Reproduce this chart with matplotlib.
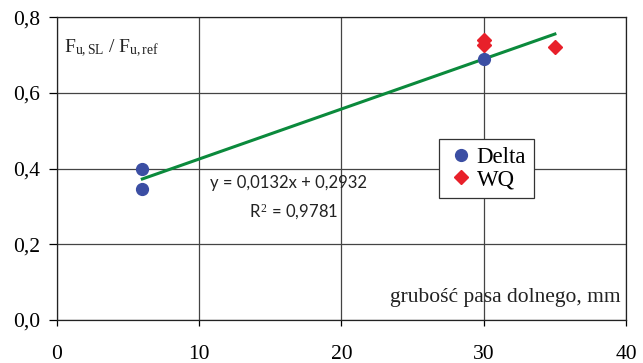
import numpy as np
import matplotlib
matplotlib.use("Agg")
import matplotlib.pyplot as plt
from matplotlib.ticker import FuncFormatter

# dane
delta_x = [6, 6, 30]
delta_y = [0.400, 0.345, 0.690]
wq_x = [30, 30, 35]
wq_y = [0.740, 0.725, 0.720]

# linia trendu (z rownania na wykresie)
a_trend = 0.0132
b_trend = 0.2932
trend_x = [6, 35]

x_ticks = [0, 10, 20, 30, 40]
y_ticks = [0.0, 0.2, 0.4, 0.6, 0.8]

serif = "Liberation Serif"
plt.rcParams["mathtext.fontset"] = "custom"
plt.rcParams["mathtext.rm"] = serif
plt.rcParams["mathtext.it"] = serif + ":italic"

fig = plt.figure(figsize=(6.43, 3.63), dpi=100)
ax = fig.add_axes([0.0886, 0.1185, 0.885, 0.8345])

ax.set_xlim(0, 40)
ax.set_ylim(0, 0.8)
ax.set_xticks(x_ticks)
ax.set_yticks(y_ticks)
ax.xaxis.set_major_formatter(FuncFormatter(lambda v, p: f"{v:.0f}"))
ax.yaxis.set_major_formatter(FuncFormatter(lambda v, p: f"{v:.1f}".replace(".", ",")))
for lab in ax.get_xticklabels() + ax.get_yticklabels():
    lab.set_fontfamily(serif)
    lab.set_fontsize(15.5)
ax.tick_params(axis="x", direction="out", length=4, pad=14, width=0.9)
ax.tick_params(axis="y", direction="out", length=6, pad=6, width=0.9)

ax.grid(True, color="#444444", linewidth=0.9)
ax.set_axisbelow(True)
for s in ax.spines.values():
    s.set_color("#222222")
    s.set_linewidth(0.9)

tx = np.array(trend_x, dtype=float)
ax.plot(tx, a_trend * tx + b_trend, color="#0b8a3c", linewidth=2.2, zorder=3)

ax.plot(delta_x, delta_y, "o", color="#3b4ea3", markersize=8.5, label="Delta", zorder=4)
ax.plot(wq_x, wq_y, "D", color="#e8202a", markersize=7.5, label="WQ", zorder=4)

leg = ax.legend(loc="upper left", bbox_to_anchor=(0.671, 0.597), frameon=True,
                fancybox=False, framealpha=1, edgecolor="#333333",
                prop={"family": serif, "size": 16.5}, handletextpad=0.1,
                handlelength=1.2, borderpad=0.35, labelspacing=0.05,
                borderaxespad=0)
leg.get_frame().set_linewidth(0.9)

ax.text(16.3, 0.363, "y = 0,0132x + 0,2932", ha="center", va="center",
        fontsize=12, color="#222222", family="Lato")
ax.text(16.6, 0.286, "R$^{\\,2}$ = 0,9781", ha="center", va="center",
        fontsize=12, color="#222222", family="Lato")

ax.text(0.013, 0.895, "F$_{\\mathrm{u,SL}}$ / F$_{\\mathrm{u,ref}}$",
        transform=ax.transAxes, ha="left", va="center", fontsize=14,
        family=serif, color="#222222")
ax.text(0.99, 0.075, "grubość pasa dolnego, mm", transform=ax.transAxes,
        ha="right", va="center", fontsize=15.5, family=serif, color="#222222")

fig.savefig("out.png", dpi=100)
